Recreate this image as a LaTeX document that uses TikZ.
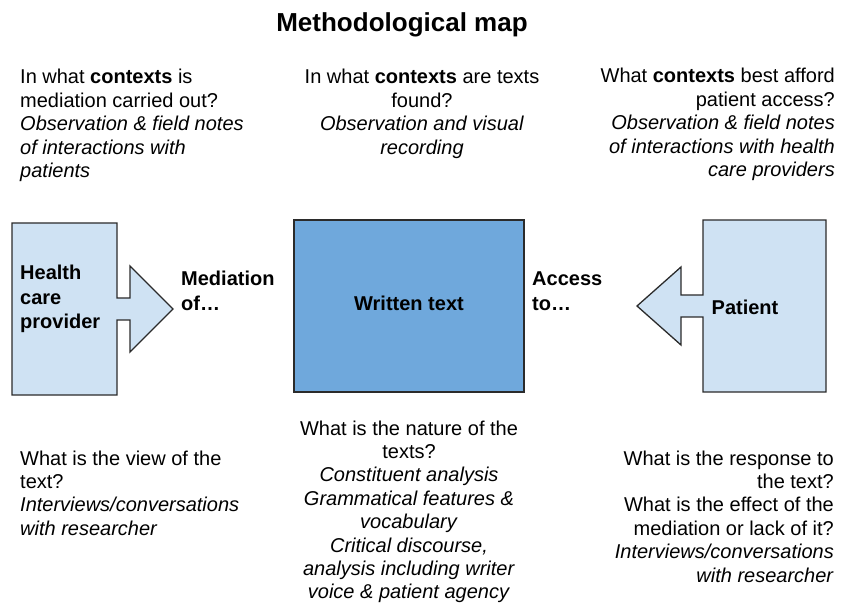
\documentclass[tikz,border=0pt]{standalone}
\usepackage{fontspec}
\setmainfont{Liberation Sans}
\usepackage{tikz}
\usetikzlibrary{calc}

\definecolor{paleblue}{HTML}{CFE2F3}
\definecolor{midblue}{HTML}{6FA8DC}
\definecolor{edge}{HTML}{2B2B2B}

\begin{document}
\begin{tikzpicture}
[x=1pt,y=-1pt,
 frame/.style={draw=edge,line width=1.3pt,line join=miter},
 note/.style={inner sep=0pt,font=\fontsize{20}{23.4}\selectfont},
 tag/.style={note,font=\fontsize{20}{24.5}\selectfont\bfseries}]
\useasboundingbox (0,0) rectangle (841,612);
\draw [frame,fill=paleblue] (12,223) -- (117,223) -- (117,298) -- (130,298) -- (130,266) -- (173,309)
  -- (130,352) -- (130,320) -- (117,320) -- (117,395) -- (12,395) -- cycle;
\draw [frame,fill=paleblue] (826,220) -- (703,220) -- (703,295) -- (681,295) -- (681,267) -- (637,306)
  -- (681,345) -- (681,317) -- (703,317) -- (703,392) -- (826,392) -- cycle;
\node (wt) at (409,306) [frame,fill=midblue,minimum width=230pt,minimum height=172pt] {};
\node (title) at (402,32) [anchor=base,inner sep=0pt,font=\fontsize{26}{30}\selectfont\bfseries] {Methodological map};
% multi-line nodes sit on the baseline of their last line
\node (hcp) at (20,329) [tag,anchor=base west,align=left] {Health\\care\\provider};
\node (med) at (181,310.5) [tag,anchor=base west,align=left] {Mediation\\of…};
\node (wtl) at (409,303) [tag,font=\fontsize{20}{24}\selectfont\bfseries] {Written text};
\node (acc) at (532,310.5) [tag,anchor=base west,align=left] {Access\\to…};
\node (pat) at (745,307) [tag,font=\fontsize{20}{24}\selectfont\bfseries] {Patient};
\node (q1) at (20,177.6) [note,anchor=base west,align=left] {In what \textbf{contexts} is\\mediation carried out?\\
  \textit{Observation \& field notes}\\\textit{of interactions with}\\\textit{patients}};
\node (q2) at (422,154.2) [note,anchor=base,align=center] {In what \textbf{contexts} are texts\\found?\\
  \textit{Observation and visual}\\\textit{recording}};
\node (q3) at (835,176.6) [note,anchor=base east,align=right] {What \textbf{contexts} best afford\\patient access?\\
  \textit{Observation \& field notes}\\\textit{of interactions with health}\\\textit{care providers}};
\node (q4) at (20,535.2) [note,anchor=base west,align=left] {What is the view of the\\text?\\
  \textit{Interviews/conversations}\\\textit{with researcher}};
\node (q5) at (409,598.8) [note,anchor=base,align=center] {What is the nature of the\\texts?\\
  \textit{Constituent analysis}\\\textit{Grammatical features \&}\\\textit{vocabulary}\\
  \textit{Critical discourse,}\\\textit{analysis including writer}\\\textit{voice \& patient agency}};
\node (q6) at (834,582) [note,anchor=base east,align=right] {What is the response to\\the text?\\
  What is the effect of the\\mediation or lack of it?\\
  \textit{Interviews/conversations}\\\textit{with researcher}};
\end{tikzpicture}
\end{document}
